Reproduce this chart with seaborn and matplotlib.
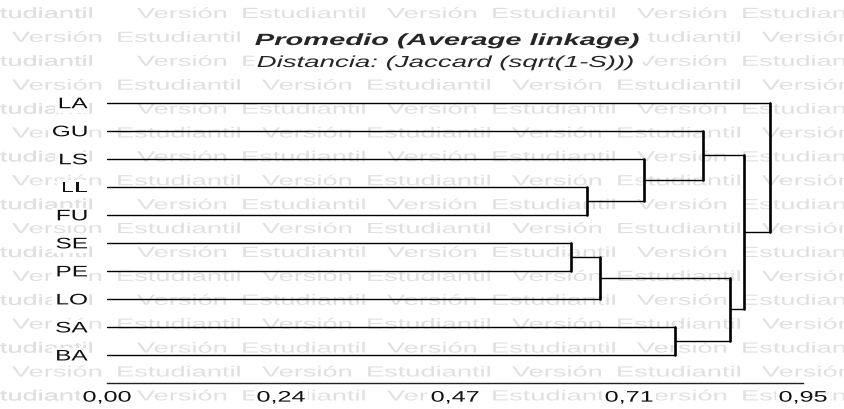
import pandas as pd
import matplotlib
matplotlib.use("Agg")
import matplotlib.pyplot as plt
import seaborn as sns
from matplotlib.patheffects import AbstractPathEffect
from matplotlib.transforms import Affine2D

# leaves top to bottom, node ids 0-9; every merge creates the next id (10, 11, ...)
leaves = ["LA", "GU", "LS", "LL", "FU", "SE", "PE", "LO", "SA", "BA"]
merge_left = [3, 2, 1, 5, 13, 8, 14, 12, 0]
merge_right = [4, 10, 11, 6, 7, 9, 15, 16, 17]
merge_height = [0.655, 0.733, 0.813, 0.634, 0.673, 0.775, 0.850, 0.869, 0.905]

tick_values = [0.0, 0.2375, 0.475, 0.7125, 0.95]
tick_labels = ["0,00", "0,24", "0,47", "0,71", "0,95"]

title = "Promedio (Average linkage)"
subtitle = "Distancia: (Jaccard (sqrt(1-S)))"
watermark_words = ["Versión", "Estudiantil"]


class Stretch(AbstractPathEffect):
    """Widen text horizontally, the exported picture is stretched."""

    def __init__(self, sx, anchor="left"):
        super().__init__()
        self.sx = sx
        self.anchor = anchor

    def draw_path(self, renderer, gc, tpath, affine, rgbFace=None):
        path = affine.transform_path(tpath)
        ext = path.get_extents()
        x0 = {"left": ext.x0, "center": (ext.x0 + ext.x1) / 2, "right": ext.x1}[self.anchor]
        t = Affine2D().translate(-x0, 0).scale(self.sx, 1).translate(x0, 0)
        renderer.draw_path(gc, path, t, rgbFace)


def white_box(anchor, sx, pad=1.0):
    return dict(facecolor="white", edgecolor="none", pad=pad,
                path_effects=[Stretch(sx, anchor)])


sns.set_style("white")
plt.rcParams["font.family"] = ["Liberation Sans", "DejaVu Sans"]

W, H = 844, 409
fig = plt.figure(figsize=(W / 100, H / 100), dpi=100)
fig.patch.set_facecolor("white")

# watermark, one word per text; words hidden under the title box are left out
for k in range(17):
    y = 13 + 23.9 * k + 5
    start = 137 - 250 if k % 2 == 0 else 12
    for m in range(5):
        for word, dx, w in [("Versión", 0, 94), ("Estudiantil", 105, 126)]:
            x = start + 250 * m + dx
            if x >= W - 10:
                continue
            if k in (1, 2) and x >= 250 and x + w <= 648:
                continue
            if x < 0:
                word, x = "tudiantil", 0
            fig.text(x / W, 1 - y / H, word, fontsize=10.6, color="#e0e0e0",
                     ha="left", va="baseline", zorder=-1,
                     path_effects=[Stretch(1.85, "left")])

# dendrogram segments
node_x = [0.0] * len(leaves)
node_y = list(range(len(leaves)))
h_rows, v_rows = [], []
for k, (a, b, h) in enumerate(zip(merge_left, merge_right, merge_height)):
    for c in (a, b):
        h_rows += [(f"h{k}_{c}", node_x[c], node_y[c]), (f"h{k}_{c}", h, node_y[c])]
    v_rows += [(f"v{k}", h, node_y[a]), (f"v{k}", h, node_y[b])]
    node_x.append(h)
    node_y.append((node_y[a] + node_y[b]) / 2)
hdf = pd.DataFrame(h_rows, columns=["seg", "x", "y"])
vdf = pd.DataFrame(v_rows, columns=["seg", "x", "y"])

ax = fig.add_axes([107 / W, 1 - 383 / H, (803 - 107) / W, (383 - 88.7) / H])
ax.patch.set_visible(False)
sns.lineplot(data=hdf, x="x", y="y", units="seg", estimator=None, sort=False,
             color="black", lw=1.0, ax=ax)
sns.lineplot(data=vdf, x="x", y="y", units="seg", estimator=None, sort=False,
             color="black", lw=1.9, ax=ax)

ax.set_xlim(0, 0.95)
ax.set_ylim(10.0, -0.5)
ax.set_xlabel("")
ax.set_ylabel("")
for side in ["top", "right", "left"]:
    ax.spines[side].set_visible(False)
ax.spines["bottom"].set_color("#222222")
ax.spines["bottom"].set_linewidth(1.0)

ax.set_xticks(tick_values)
ax.set_xticklabels(tick_labels, fontsize=11, color="#111111",
                   bbox=white_box("center", 1.65), path_effects=[Stretch(1.65, "center")])
ax.tick_params(axis="x", direction="out", length=3, width=1.4, color="#222222", pad=2.5)

ax.set_yticks(range(len(leaves)))
ax.set_yticklabels(leaves, fontsize=11, color="#111111",
                   bbox=white_box("right", 1.6), path_effects=[Stretch(1.6, "right")])
ax.tick_params(axis="y", length=0, pad=14)

fig.text(255 / W, 1 - 45 / H, title, fontsize=11.7, fontweight="bold", fontstyle="italic",
         ha="left", va="baseline", bbox=white_box("left", 1.79, 2),
         path_effects=[Stretch(1.79, "left")])
fig.text(257 / W, 1 - 67 / H, subtitle, fontsize=11.5, fontstyle="italic",
         ha="left", va="baseline", bbox=white_box("left", 1.73, 2),
         path_effects=[Stretch(1.73, "left")])

fig.savefig("out.png", dpi=100, facecolor="white")
